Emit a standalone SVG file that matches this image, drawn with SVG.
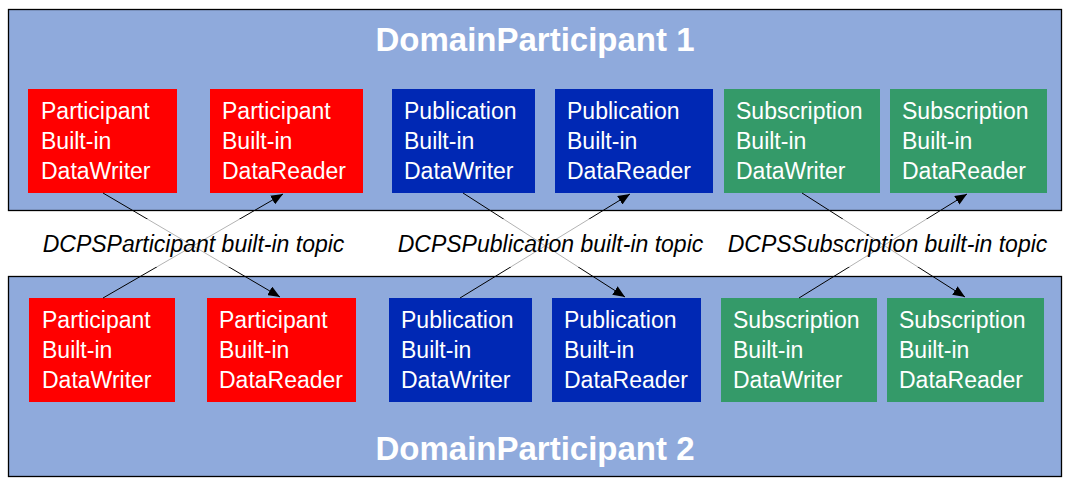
<svg xmlns="http://www.w3.org/2000/svg" width="1077" height="487" viewBox="0 0 1077 487">
<style>
.panel{fill:#8FAADC;stroke:#000;stroke-width:1.3}
.title{font-family:"Liberation Sans",Arial,sans-serif;font-weight:bold;font-size:33px;fill:#fff;text-anchor:middle}
.lbl{font-family:"Liberation Sans",Arial,sans-serif;font-size:23px;fill:#fff}
.topic{font-family:"Liberation Sans",Arial,sans-serif;font-style:italic;font-size:23px;fill:#000;text-anchor:middle}
.red{fill:#FF0000}
.blue{fill:#0028B4}
.green{fill:#349A69}
.conn{stroke:#000;stroke-width:1;fill:none;marker-end:url(#arr)}
</style>
<defs>
<marker id="arr" markerUnits="userSpaceOnUse" markerWidth="13" markerHeight="10" refX="12" refY="5" orient="auto">
<path d="M0,0 L12,5 L0,10 Z" fill="#000"/>
</marker>
</defs>
<rect width="1077" height="487" fill="#fff"/>
<g id="dp1">
<rect class="panel" x="8.5" y="9.5" width="1053" height="201"/>
<text class="title" x="535" y="51">DomainParticipant 1</text>
</g>
<g id="dp2">
<rect class="panel" x="8.5" y="276.5" width="1053" height="200"/>
<text class="title" x="535" y="460">DomainParticipant 2</text>
</g>
<g id="p1-writer"><rect class="red" x="28" y="89" width="149" height="104"/><text class="lbl" x="41" y="119">Participant<tspan x="41" dy="30">Built-in</tspan><tspan x="41" dy="30">DataWriter</tspan></text></g>
<g id="p1-reader"><rect class="red" x="210" y="89" width="153" height="104"/><text class="lbl" x="222" y="119">Participant<tspan x="222" dy="30">Built-in</tspan><tspan x="222" dy="30">DataReader</tspan></text></g>
<g id="pub1-writer"><rect class="blue" x="392" y="89" width="143" height="104"/><text class="lbl" x="404" y="119">Publication<tspan x="404" dy="30">Built-in</tspan><tspan x="404" dy="30">DataWriter</tspan></text></g>
<g id="pub1-reader"><rect class="blue" x="555" y="89" width="158" height="104"/><text class="lbl" x="567" y="119">Publication<tspan x="567" dy="30">Built-in</tspan><tspan x="567" dy="30">DataReader</tspan></text></g>
<g id="sub1-writer"><rect class="green" x="724" y="89" width="156" height="104"/><text class="lbl" x="736" y="119">Subscription<tspan x="736" dy="30">Built-in</tspan><tspan x="736" dy="30">DataWriter</tspan></text></g>
<g id="sub1-reader"><rect class="green" x="890" y="89" width="157" height="104"/><text class="lbl" x="902" y="119">Subscription<tspan x="902" dy="30">Built-in</tspan><tspan x="902" dy="30">DataReader</tspan></text></g>
<g id="p2-writer"><rect class="red" x="29" y="298" width="146" height="104"/><text class="lbl" x="42" y="328">Participant<tspan x="42" dy="30">Built-in</tspan><tspan x="42" dy="30">DataWriter</tspan></text></g>
<g id="p2-reader"><rect class="red" x="207" y="298" width="149" height="104"/><text class="lbl" x="219" y="328">Participant<tspan x="219" dy="30">Built-in</tspan><tspan x="219" dy="30">DataReader</tspan></text></g>
<g id="pub2-writer"><rect class="blue" x="389" y="298" width="143" height="104"/><text class="lbl" x="401" y="328">Publication<tspan x="401" dy="30">Built-in</tspan><tspan x="401" dy="30">DataWriter</tspan></text></g>
<g id="pub2-reader"><rect class="blue" x="552" y="298" width="149" height="104"/><text class="lbl" x="564" y="328">Publication<tspan x="564" dy="30">Built-in</tspan><tspan x="564" dy="30">DataReader</tspan></text></g>
<g id="sub2-writer"><rect class="green" x="721" y="298" width="156" height="104"/><text class="lbl" x="733" y="328">Subscription<tspan x="733" dy="30">Built-in</tspan><tspan x="733" dy="30">DataWriter</tspan></text></g>
<g id="sub2-reader"><rect class="green" x="887" y="298" width="157" height="104"/><text class="lbl" x="899" y="328">Subscription<tspan x="899" dy="30">Built-in</tspan><tspan x="899" dy="30">DataReader</tspan></text></g>
<g id="connectors">
<line class="conn" x1="103" y1="193" x2="280" y2="297"/>
<line class="conn" x1="103" y1="298" x2="283" y2="194"/>
<line class="conn" x1="463" y1="193" x2="625" y2="297"/>
<line class="conn" x1="460" y1="298" x2="630" y2="194"/>
<line class="conn" x1="802" y1="193" x2="965" y2="297"/>
<line class="conn" x1="799" y1="298" x2="967" y2="194"/>
</g>
<g id="topics">
<rect x="30" y="219" width="1030" height="48" fill="#fff" fill-opacity="0.7"/>
<text class="topic" x="193.5" y="252">DCPSParticipant built-in topic</text>
<text class="topic" x="550.5" y="252">DCPSPublication built-in topic</text>
<text class="topic" x="887.5" y="252">DCPSSubscription built-in topic</text>
</g>
</svg>
